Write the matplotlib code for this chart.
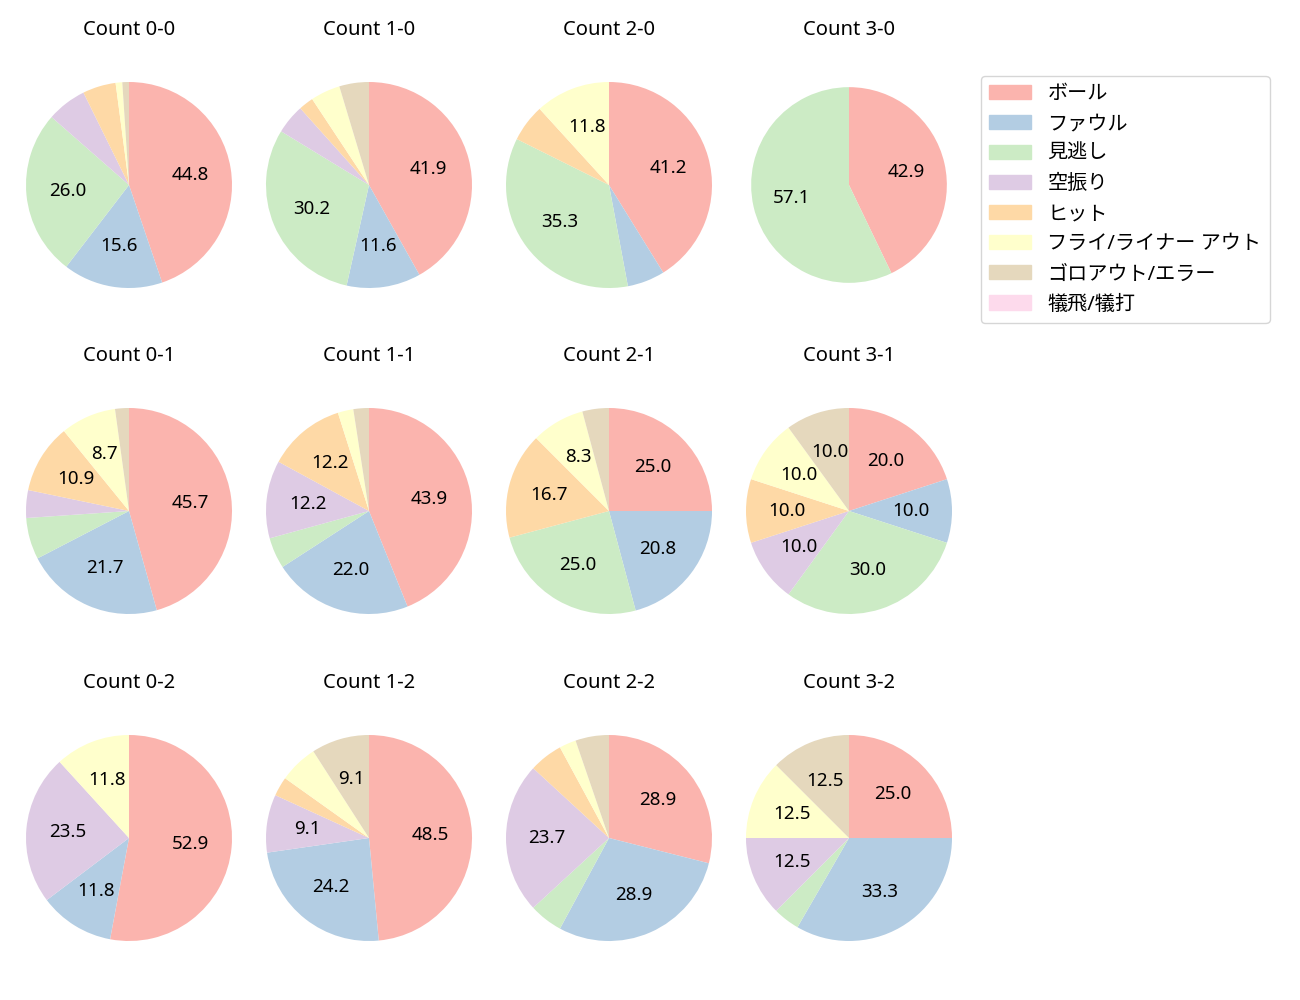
import matplotlib
matplotlib.use("Agg")
import matplotlib.pyplot as plt
import matplotlib.patches as mpatches

plt.rcParams['font.family'] = ['Noto Sans', 'Noto Sans CJK JP', 'DejaVu Sans']

# 球種の結果カテゴリ
labels = ['ボール', 'ファウル', '見逃し', '空振り', 'ヒット',
          'フライ/ライナー アウト', 'ゴロアウト/エラー', '犠飛/犠打']

# カウント別の件数 (カテゴリ順)
count_names = ['0-0', '1-0', '2-0', '3-0',
               '0-1', '1-1', '2-1', '3-1',
               '0-2', '1-2', '2-2', '3-2']
c00 = [43, 15, 25, 6, 5, 1, 1, 0]
c10 = [18, 5, 13, 2, 1, 2, 2, 0]
c20 = [7, 1, 6, 0, 1, 2, 0, 0]
c30 = [3, 0, 4, 0, 0, 0, 0, 0]
c01 = [21, 10, 3, 2, 5, 4, 1, 0]
c11 = [18, 9, 2, 5, 5, 1, 1, 0]
c21 = [6, 5, 6, 0, 4, 2, 1, 0]
c31 = [2, 1, 3, 1, 1, 1, 1, 0]
c02 = [9, 2, 0, 4, 0, 2, 0, 0]
c12 = [16, 8, 0, 3, 1, 2, 3, 0]
c22 = [11, 11, 2, 9, 2, 1, 2, 0]
c32 = [6, 8, 1, 3, 0, 3, 3, 0]
all_counts = [c00, c10, c20, c30, c01, c11, c21, c31, c02, c12, c22, c32]

cmap = plt.get_cmap('Pastel1')
colors = [cmap(i) for i in range(8)]

W, H = 1300, 1000
fig = plt.figure(figsize=(13, 10), dpi=100)

# 円の中心 (ピクセル) と半径
xs = [129, 369, 609, 849]
ys = [185, 511, 838]
r = 103
half = r * 1.25


def fmt(p):
    return '%.1f' % p if p >= 7 else ''


for k, vals in enumerate(all_counts):
    row, col = divmod(k, 4)
    cx, cy = xs[col], ys[row]
    ax = fig.add_axes([(cx - half) / W, 1 - (cy + half) / H, 2 * half / W, 2 * half / H])
    # 3-0 は少し小さく描かれている
    rad = 0.95 if k == 3 else 1.0
    ax.pie(vals, colors=colors, startangle=90, counterclock=False, radius=rad,
           autopct=fmt, textprops={'fontsize': 13.5})
    ax.set_xlim(-1.25, 1.25)
    ax.set_ylim(-1.25, 1.25)
    ax.set_title('Count ' + count_names[k], fontsize=14.5, pad=15)

handles = [mpatches.Patch(color=colors[i], label=labels[i]) for i in range(8)]
fig.legend(handles=handles, loc='upper left', bbox_to_anchor=(981 / W, 1 - 76 / H),
           borderaxespad=0, fontsize=14.5, handlelength=2.1, frameon=True)

plt.savefig('out.png')
